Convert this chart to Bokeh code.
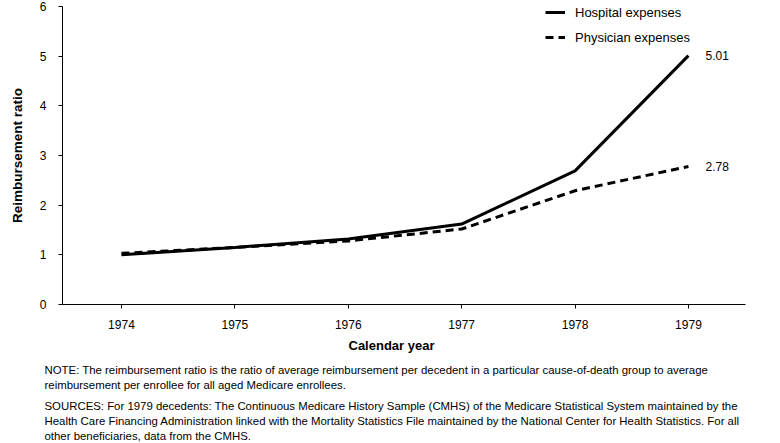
from bokeh.plotting import figure
from bokeh.models import Range1d, FixedTicker, Legend, LegendItem, ColumnDataSource, Title
from bokeh.core.properties import value
from bokeh.embed import file_html
from bokeh.resources import INLINE

years = [1974, 1975, 1976, 1977, 1978, 1979]
hospital = [1.00, 1.15, 1.32, 1.62, 2.69, 5.01]
physician = [1.03, 1.15, 1.28, 1.52, 2.29, 2.78]
series_names = ["Hospital expenses", "Physician expenses"]
end_labels = ["5.01", "2.78"]
y_ticks = [0, 1, 2, 3, 4, 5, 6]
x_title = "Calendar year"
y_title = "Reimbursement ratio"
note_paragraphs = [
    ["NOTE: The reimbursement ratio is the ratio of average reimbursement per decedent in a particular cause-of-death group to average",
     "reimbursement per enrollee for all aged Medicare enrollees."],
    ["SOURCES: For 1979 decedents: The Continuous Medicare History Sample (CMHS) of the Medicare Statistical System maintained by the",
     "Health Care Financing Administration linked with the Mortality Statistics File maintained by the National Center for Health Statistics.  For all",
     "other beneficiaries, data from the CMHS."],
]

FONT = "Liberation Sans"

p = figure(width=780, height=443, output_backend="svg", toolbar_location=None,
           x_range=Range1d(1973.48, 1979.503), y_range=Range1d(0, 6),
           min_border_left=62, min_border_right=35, min_border_top=6,
           min_border_bottom=138)
p.outline_line_color = None
p.xgrid.visible = False
p.ygrid.visible = False
p.background_fill_color = "white"

for ax in (p.xaxis[0], p.yaxis[0]):
    ax.axis_line_color = "black"
    ax.axis_line_width = 1
    ax.major_tick_line_color = "black"
    ax.major_tick_in = 0
    ax.major_tick_out = 4
    ax.minor_tick_line_color = None
    ax.major_label_text_font = FONT
    ax.major_label_text_font_size = "12px"
    ax.major_label_text_color = "black"
    ax.axis_label_text_font = FONT
    ax.axis_label_text_font_style = "bold"
    ax.axis_label_text_color = "black"

p.xaxis[0].ticker = FixedTicker(ticks=years)
p.xaxis[0].major_label_standoff = 11

p.yaxis[0].ticker = FixedTicker(ticks=y_ticks)
p.yaxis[0].major_label_standoff = 12
p.yaxis[0].axis_label = y_title
p.yaxis[0].axis_label_text_font_size = "13.5px"
p.yaxis[0].axis_label_standoff = 12

r1 = p.line(years, hospital, line_color="black", line_width=3)
r2 = p.line(years, physician, line_color="black", line_width=3, line_dash="8 5")

end_src = ColumnDataSource(dict(x=[years[-1], years[-1]], y=[hospital[-1], physician[-1]], t=end_labels))
p.text(x="x", y="y", text="t", source=end_src, x_offset=17, text_baseline="middle",
       text_align="left", text_font=value(FONT), text_font_size="12px", text_color="black")

legend = Legend(items=[LegendItem(label=series_names[0], renderers=[r1]),
                       LegendItem(label=series_names[1], renderers=[r2])],
                location=(483, 257))
legend.padding = 0
legend.margin = 0
legend.spacing = 5
legend.glyph_width = 20
legend.glyph_height = 20
legend.label_height = 20
legend.label_standoff = 10
legend.border_line_color = None
legend.background_fill_alpha = 0
legend.label_text_font = FONT
legend.label_text_font_size = "13px"
legend.label_text_color = "black"
p.add_layout(legend)

# x-axis title, placed in the panel below the axis
p.add_layout(Title(text=x_title, align="left", offset=286, standoff=8,
                   text_font=FONT, text_font_size="13px", text_font_style="bold",
                   text_color="black"), "below")

note_standoffs = [11, 2]
for para, so in zip(note_paragraphs, note_standoffs):
    p.add_layout(Title(text="\n".join(para), align="left", offset=-18, standoff=so,
                       text_font=FONT, text_font_size="11.4px", text_font_style="normal",
                       text_line_height=1.28, text_color="black"), "below")

open("out.html", "w").write(file_html(p, INLINE))
